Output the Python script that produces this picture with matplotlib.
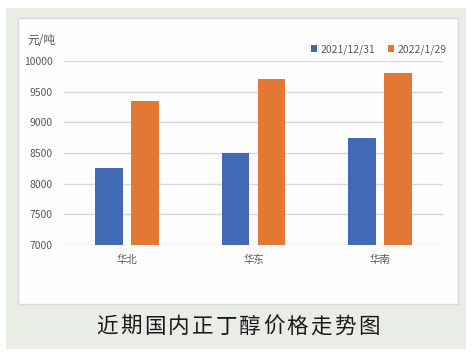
import matplotlib.pyplot as plt
from matplotlib.patches import Rectangle
import numpy as np

plt.rcParams['font.family'] = ['Noto Sans CJK SC', 'DejaVu Sans']

# 数据
regions = ['华北', '华东', '华南']
series_names = ['2021/12/31', '2022/1/29']
price_dec = [8250, 8500, 8750]
price_jan = [9350, 9700, 9800]
y_ticks = [7000, 7500, 8000, 8500, 9000, 9500, 10000]
title = '近期国内正丁醇价格走势图'

W, H = 472, 356
fig = plt.figure(figsize=(W / 100, H / 100), dpi=100, facecolor='white')

# 背景面板
fig.patches.append(Rectangle((6 / W, 1 - 349 / H), 460 / W, 341 / H,
                             transform=fig.transFigure, facecolor='#E8EEE6',
                             edgecolor='none', zorder=0))
fig.patches.append(Rectangle((18 / W, 1 - 304 / H), 440 / W, 286 / H,
                             transform=fig.transFigure, facecolor='#FDFDFD',
                             edgecolor='#D8D8D8', linewidth=1, zorder=1))

ax = fig.add_axes([64 / W, 1 - 245 / H, 379 / W, 184 / H])
ax.set_facecolor('none')
ax.set_zorder(5)

x = np.arange(len(regions))
w = 0.22
ax.bar(x - 0.142, price_dec, w, color='#4169B4', label=series_names[0], zorder=3)
ax.bar(x + 0.142, price_jan, w, color='#E27833', label=series_names[1], zorder=3)

ax.set_xlim(-0.5, 2.5)
ax.set_ylim(7000, 10000)
ax.set_yticks(y_ticks)
ax.set_xticks(x)
ax.set_xticklabels(regions)
ax.grid(axis='y', color='#D9D9D9', linewidth=1, zorder=0)
for s in ax.spines.values():
    s.set_visible(False)
ax.tick_params(length=0, colors='#595959', labelsize=7.5)
ax.tick_params(axis='y', pad=8)
ax.tick_params(axis='x', pad=7)

ax.legend(loc='lower right', bbox_to_anchor=(1.025, 1.0), ncol=2, frameon=False,
          fontsize=7.5, handlelength=0.6, handleheight=0.6, handletextpad=0.3,
          columnspacing=1.2, labelcolor='#595959', borderaxespad=0.2)

fig.text(27 / W, 1 - 40 / H, '元/吨', fontsize=8.5, color='#595959', va='center',
         zorder=6)

# 标题逐字排开，字距较宽
x0, step = 107, 23.8
for i, ch in enumerate(title):
    fig.text((x0 + i * step) / W, 1 - 327 / H, ch, fontsize=15.5,
             color='#1A1A1A', ha='center', va='center', zorder=6)

fig.savefig('out.png', dpi=100)
